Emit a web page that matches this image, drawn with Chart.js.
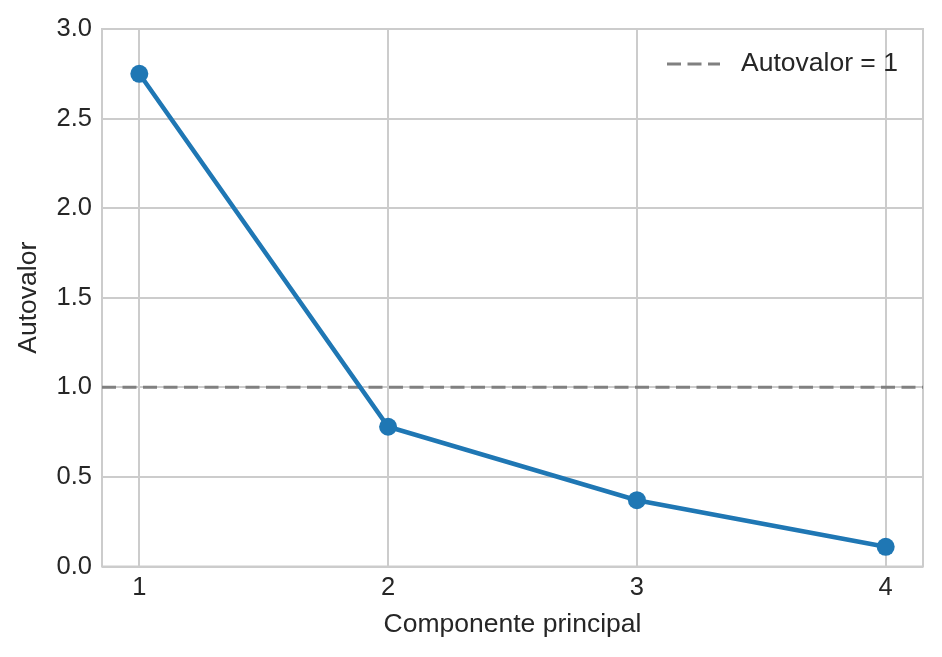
<!DOCTYPE html>
<html><head><meta charset="utf-8">
<script src="https://cdn.jsdelivr.net/npm/chart.js@4"></script>
<style>html,body{margin:0;padding:0;background:#fff}#w{width:942px;height:657px}</style>
</head><body><div id="w"><canvas id="c" width="942" height="657"></canvas></div>
<script>
const components = [1, 2, 3, 4];
const eigenvalues = [2.75, 0.78, 0.37, 0.11];
const threshold = 1;
const thresholdLabel = 'Autovalor = 1';
const yTicks = [0, 0.5, 1, 1.5, 2, 2.5, 3];
const xLabel = 'Componente principal';
const yLabel = 'Autovalor';

const FONT = "'Liberation Sans', Arial, sans-serif";
const TXT = '#262626';
const GRID = '#cccccc';
const TICK_SIZE = 25.5;
const LABEL_SIZE = 26.5;

const legendPlugin = {
  id: 'legendIn',
  afterDatasetsDraw(chart) {
    const ctx = chart.ctx, a = chart.chartArea;
    const y = a.top + 35;
    ctx.save();
    ctx.strokeStyle = '#808080'; ctx.lineWidth = 3; ctx.setLineDash([14, 6.5]);
    ctx.beginPath(); ctx.moveTo(a.right - 256, y); ctx.lineTo(a.right - 203, y); ctx.stroke();
    ctx.setLineDash([]);
    ctx.fillStyle = TXT; ctx.font = LABEL_SIZE + 'px ' + FONT; ctx.textBaseline = 'middle'; ctx.textAlign = 'left';
    ctx.fillText(thresholdLabel, a.right - 182, y);
    ctx.restore();
  }
};
const borderPlugin = {
  id: 'frame',
  beforeDatasetsDraw(chart) {
    const ctx = chart.ctx, a = chart.chartArea;
    ctx.save(); ctx.strokeStyle = GRID; ctx.lineWidth = 2;
    ctx.strokeRect(a.left, a.top, a.right - a.left, a.bottom - a.top);
    ctx.restore();
  }
};

new Chart(document.getElementById('c'), {
  type: 'line',
  data: {
    datasets: [
      {
        label: 'eig',
        data: components.map((c, i) => ({x: c, y: eigenvalues[i]})),
        borderColor: '#1f77b4', backgroundColor: '#1f77b4',
        borderWidth: 4.5, pointRadius: 9, pointHoverRadius: 9, pointBorderWidth: 0,
        tension: 0, order: 1
      },
      {
        label: thresholdLabel,
        data: [{x: 0.85, y: threshold}, {x: 4.15, y: threshold}],
        borderColor: '#808080', borderWidth: 3, borderDash: [14, 6.5],
        pointRadius: 0, order: 2
      }
    ]
  },
  options: {
    responsive: false, animation: false, devicePixelRatio: 1,
    layout: {padding: {left: 0, right: 19, top: 29, bottom: 0}},
    plugins: {legend: {display: false}, tooltip: {enabled: false}},
    scales: {
      x: {
        type: 'linear', min: 0.85, max: 4.15,
        afterBuildTicks: s => { s.ticks = components.map(v => ({value: v})); },
        afterFit: s => { s.height = 90.5; },
        grid: {color: GRID, lineWidth: 2, drawTicks: false},
        border: {display: false},
        ticks: {color: TXT, font: {family: FONT, size: TICK_SIZE}, padding: 6.5, callback: v => String(v)},
        title: {display: true, text: xLabel, color: TXT, font: {family: FONT, size: LABEL_SIZE}, padding: {top: 0, bottom: 16.5}}
      },
      y: {
        type: 'linear', min: 0, max: 3,
        afterBuildTicks: s => { s.ticks = yTicks.map(v => ({value: v})); },
        afterFit: s => { s.width = 102; },
        grid: {color: GRID, lineWidth: 2, drawTicks: false},
        border: {display: false},
        ticks: {color: TXT, font: {family: FONT, size: TICK_SIZE}, padding: 10, callback: v => v.toFixed(1)},
        title: {display: true, text: yLabel, color: TXT, font: {family: FONT, size: LABEL_SIZE}, padding: {top: 13, bottom: 0}}
      }
    }
  },
  plugins: [borderPlugin, legendPlugin]
});
</script></body></html>
